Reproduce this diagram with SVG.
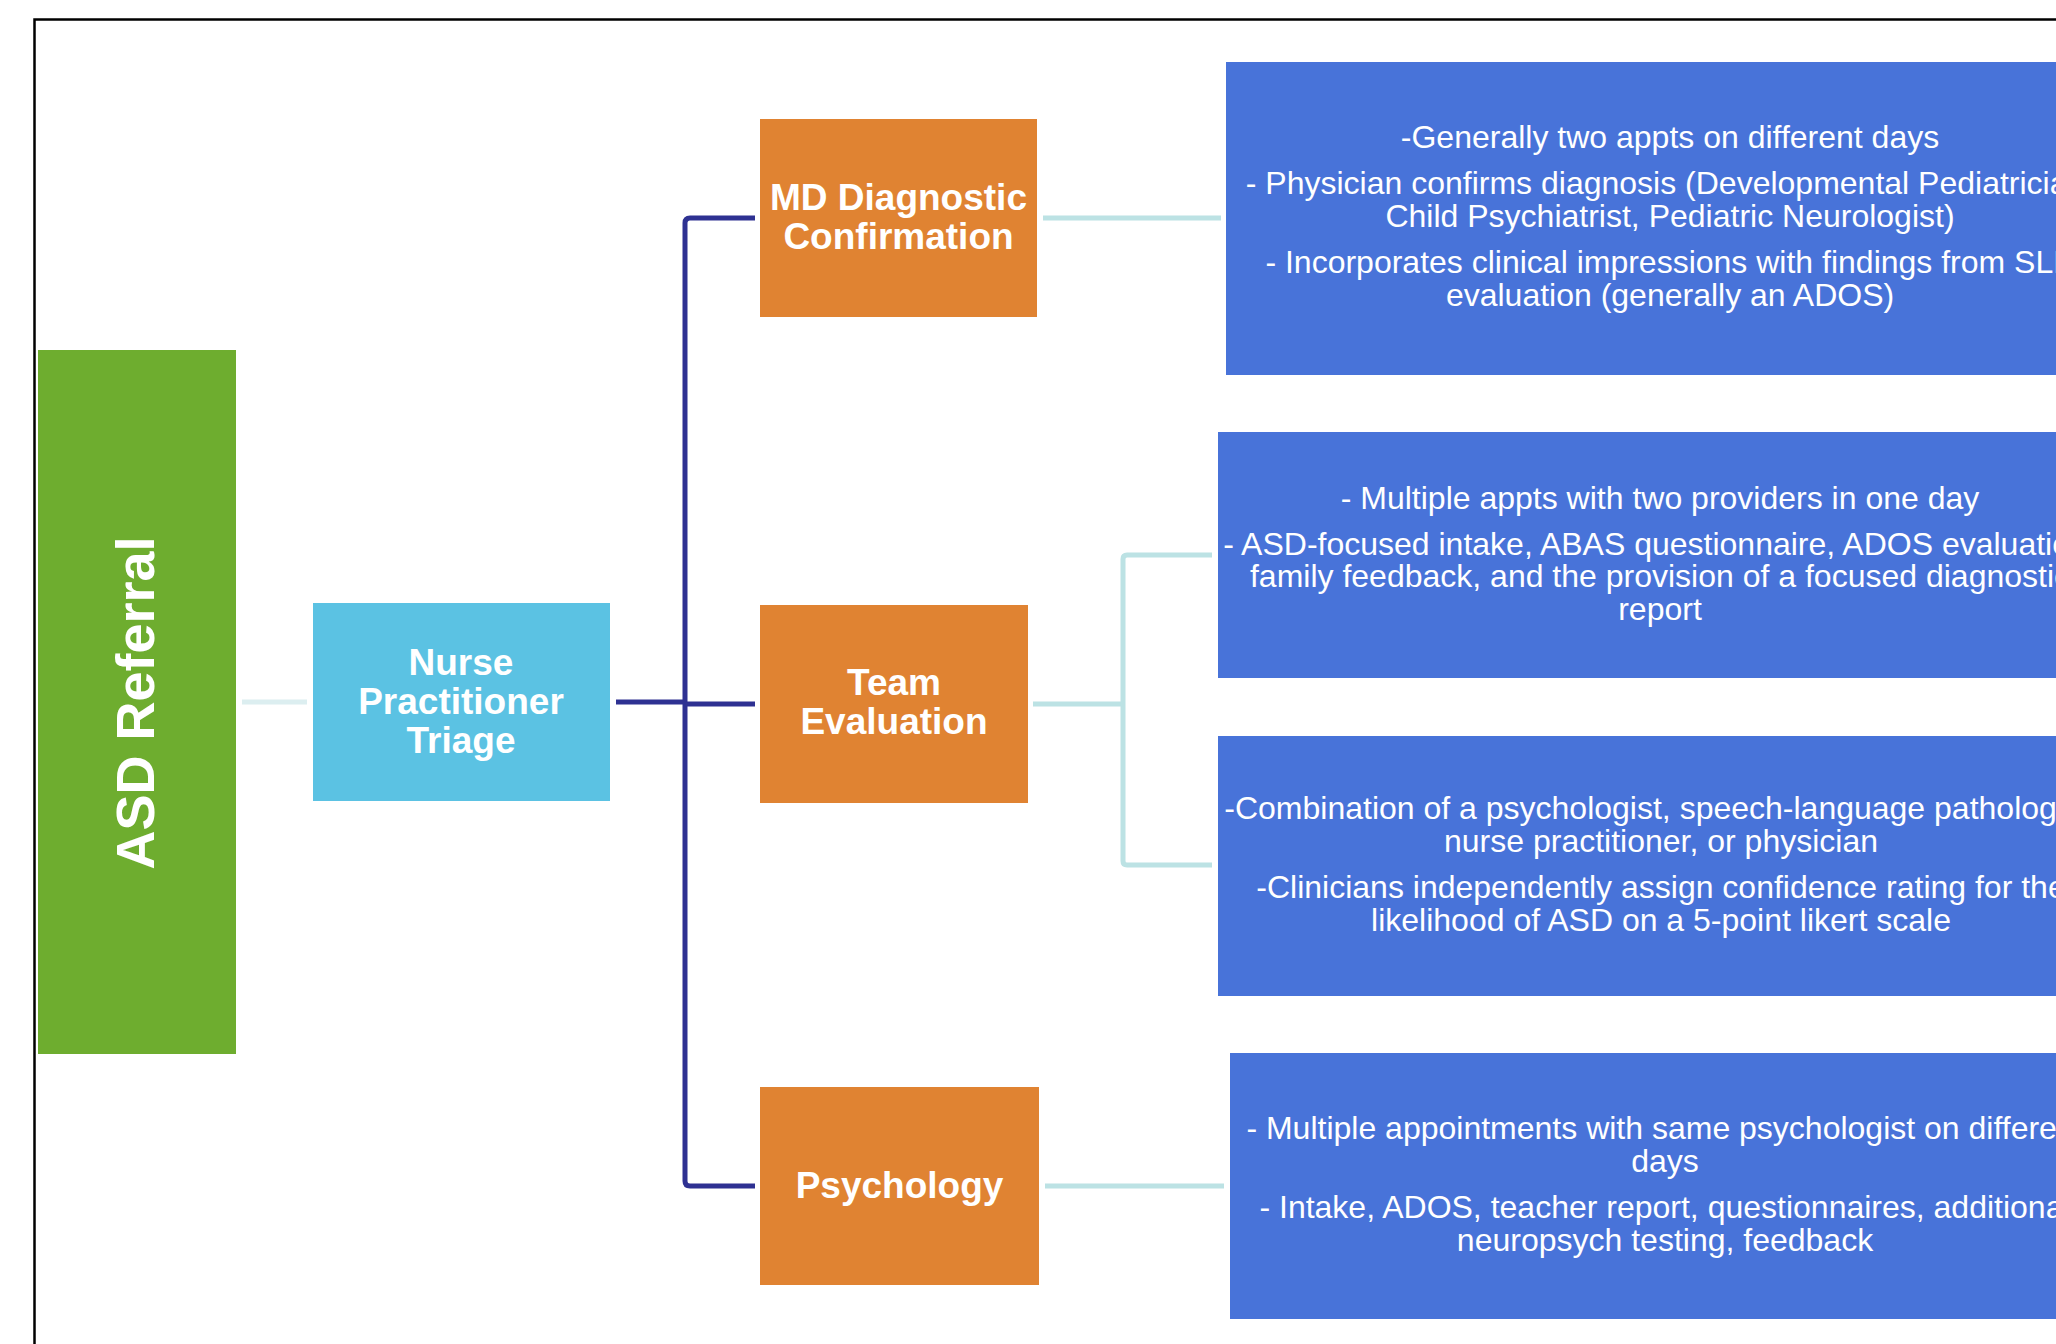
<svg xmlns="http://www.w3.org/2000/svg" width="2056" height="1344" viewBox="0 0 2056 1344">
<style>
.nodeTxt{font-family:"Liberation Sans",Arial,sans-serif;font-weight:bold;fill:#fff;text-anchor:middle;font-size:37px}
.detail{font-family:"Liberation Sans",Arial,sans-serif;fill:#fff;text-anchor:middle;font-size:32px}
.blue{fill:#4873D9}
.orange{fill:#E08332}
.navy{fill:none;stroke:#2E3192;stroke-width:5;stroke-linejoin:round}
.light{fill:none;stroke:#BCE2E4;stroke-width:5;stroke-linejoin:round}
.pale{fill:none;stroke:#DCEEF0;stroke-width:5}
</style>
<rect x="0" y="0" width="2056" height="1344" fill="#fff"/>
<rect x="34.5" y="19.5" width="2100" height="1400" fill="none" stroke="#000" stroke-width="2.5"/>

<g id="connectors">
<path class="pale" d="M242,702 H307"/>
<path class="navy" d="M616,702 H685"/>
<path class="navy" d="M755,218 H690 Q685,218 685,223 V1181 Q685,1186 690,1186 H755"/>
<path class="navy" d="M685,704 H755"/>
<path class="light" d="M1043,218 H1221"/>
<path class="light" d="M1033,704 H1123"/>
<path class="light" d="M1212,555 H1127 Q1123,555 1123,559 V861 Q1123,865 1127,865 H1212"/>
<path class="light" d="M1045,1186 H1224"/>
</g>

<g id="asd-referral">
<rect x="38" y="350" width="198" height="704" fill="#6EAD2F"/>
<text transform="translate(154,703) rotate(-90)" x="0" y="0" font-family="'Liberation Sans',Arial,sans-serif" font-weight="bold" font-size="54" fill="#fff" text-anchor="middle">ASD Referral</text>
</g>

<g id="nurse-triage">
<rect x="313" y="603" width="297" height="198" fill="#5BC2E3"/>
<text class="nodeTxt" x="461" y="675">Nurse</text>
<text class="nodeTxt" x="461" y="714">Practitioner</text>
<text class="nodeTxt" x="461" y="753">Triage</text>
</g>

<g id="md-diagnostic">
<rect class="orange" x="760" y="119" width="277" height="198"/>
<text class="nodeTxt" x="898.5" y="210">MD Diagnostic</text>
<text class="nodeTxt" x="898.5" y="249">Confirmation</text>
</g>

<g id="team-evaluation">
<rect class="orange" x="760" y="605" width="268" height="198"/>
<text class="nodeTxt" x="894" y="695">Team</text>
<text class="nodeTxt" x="894" y="734">Evaluation</text>
</g>

<g id="psychology">
<rect class="orange" x="760" y="1087" width="279" height="198"/>
<text class="nodeTxt" x="899.5" y="1198">Psychology</text>
</g>

<g id="md-details">
<rect class="blue" x="1226" y="62" width="900" height="313"/>
<text class="detail" x="1670" y="148">-Generally two appts on different days</text>
<text class="detail" x="1670" y="194">- Physician confirms diagnosis (Developmental Pediatrician,</text>
<text class="detail" x="1670" y="227">Child Psychiatrist, Pediatric Neurologist)</text>
<text class="detail" x="1670" y="273">- Incorporates clinical impressions with findings from SLP</text>
<text class="detail" x="1670" y="306">evaluation (generally an ADOS)</text>
</g>

<g id="team-details-1">
<rect class="blue" x="1218" y="432" width="900" height="246"/>
<text class="detail" x="1660" y="509">- Multiple appts with two providers in one day</text>
<text class="detail" x="1660" y="555">- ASD-focused intake, ABAS questionnaire, ADOS evaluation,</text>
<text class="detail" x="1660" y="587">family feedback, and the provision of a focused diagnostic</text>
<text class="detail" x="1660" y="620">report</text>
</g>

<g id="team-details-2">
<rect class="blue" x="1218" y="736" width="900" height="260"/>
<text class="detail" x="1661" y="819">-Combination of a psychologist, speech-language pathologist,</text>
<text class="detail" x="1661" y="852">nurse practitioner, or physician</text>
<text class="detail" x="1661" y="898">-Clinicians independently assign confidence rating for the</text>
<text class="detail" x="1661" y="931">likelihood of ASD on a 5-point likert scale</text>
</g>

<g id="psychology-details">
<rect class="blue" x="1230" y="1053" width="900" height="266"/>
<text class="detail" x="1665" y="1139">- Multiple appointments with same psychologist on different</text>
<text class="detail" x="1665" y="1172">days</text>
<text class="detail" x="1665" y="1218">- Intake, ADOS, teacher report, questionnaires, additional</text>
<text class="detail" x="1665" y="1251">neuropsych testing, feedback</text>
</g>
</svg>
